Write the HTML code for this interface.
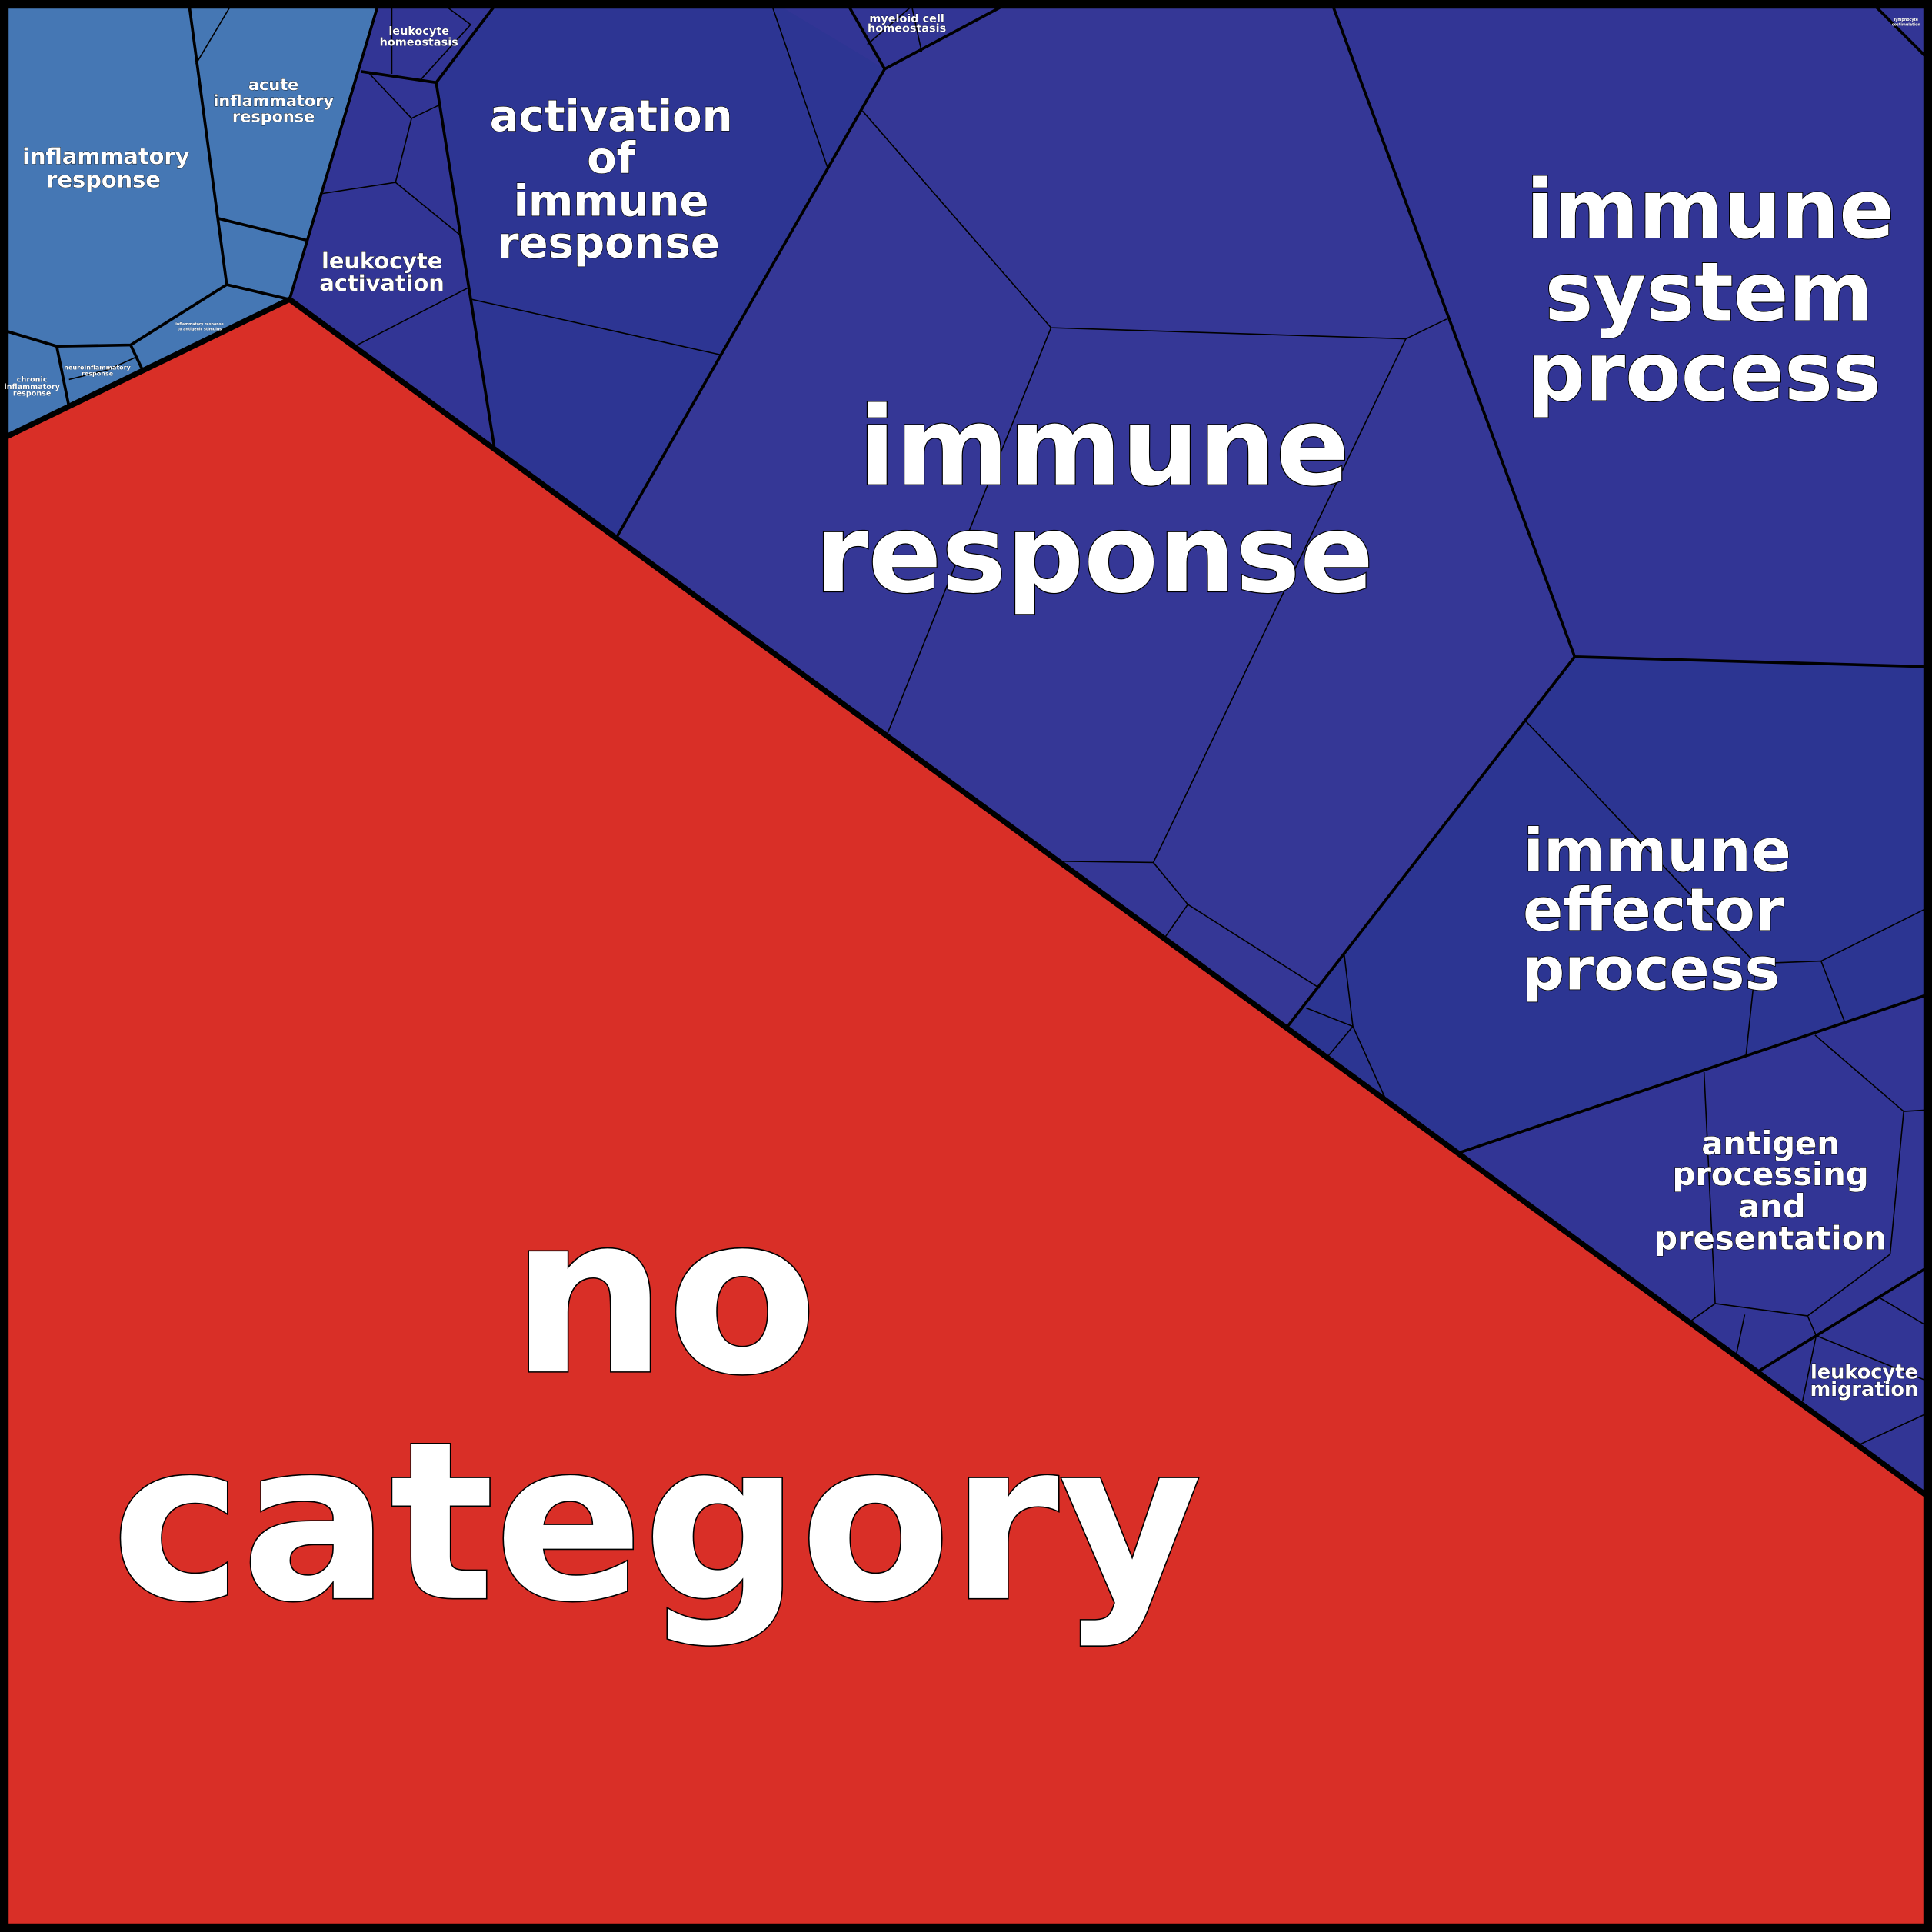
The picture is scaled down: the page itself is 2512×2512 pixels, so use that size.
<!DOCTYPE html>
<html><head><meta charset="utf-8"><style>
html,body{margin:0;padding:0;background:#000}
svg{display:block}
text{font-family:"DejaVu Sans","Liberation Sans",sans-serif;font-weight:bold;fill:#fff;stroke:#000;text-anchor:middle;paint-order:stroke}
</style></head><body>
<svg width="2512" height="2512" viewBox="0 0 1568 1568" xmlns="http://www.w3.org/2000/svg">
<rect x="0" y="0" width="1568" height="1568" fill="#323595"/>
<polygon points="718,56 823,0 1080,0 1278,533 1045,833 501,435" fill="#353796"/>
<polygon points="1278,533 1562,541 1562,808 1183,936 1045,833" fill="#2c3592"/>
<polygon points="354,67 405,0 625,0 718,56 501,435 401,362" fill="#2d3593"/>
<polygon points="0,0 308,0 235,243 0,357" fill="#4577b4"/>
<polygon points="0,357 235,243 1568,1217 1568,1568 0,1568" fill="#d92f27"/>

<g stroke="#000" stroke-width="1" fill="none">
<polyline points="700,90 853,266 1141,275 1174,259"/>
<polyline points="853,266 720,596"/>
<polyline points="1141,275 936,700 862,699"/>
<polyline points="936,700 964,734 946,760"/>
<polyline points="964,734 1071,802"/>
<polyline points="625,0 672,137"/>
<polyline points="383,243 585,288"/>
<polyline points="381,233 290,280"/>
<polyline points="375,192 321,148 262,157"/>
<polyline points="321,148 334,96 300,60"/>
<polyline points="334,96 357,85"/>
<polyline points="318,0 318,60"/>
<polyline points="355,0 382,20 342,64"/>
<polyline points="704,36 740,5 748,42"/>
<polyline points="1238,585 1425,782 1478,780 1497,829"/>
<polyline points="1425,782 1417,857"/>
<polyline points="1478,780 1562,738"/>
<polyline points="1060,818 1098,833 1091,775"/>
<polyline points="1098,833 1125,893"/>
<polyline points="1098,833 1078,857"/>
<polyline points="1383,870 1392,1058 1467,1068 1534,1018"/>
<polyline points="1473,840 1545,902 1534,1018"/>
<polyline points="1545,902 1562,901"/>
<polyline points="1392,1058 1371,1073"/>
<polyline points="1416,1067 1409,1100"/>
<polyline points="1467,1068 1474,1084 1463,1137"/>
<polyline points="1474,1084 1562,1120"/>
<polyline points="1525,1053 1562,1075"/>
<polyline points="1510,1172 1562,1148"/>
<polyline points="159,52 190,0"/>
<polyline points="56,308 88,300 110,290"/>
</g>

<g stroke="#000" stroke-width="2.3" fill="none" stroke-linejoin="round">
<polyline points="308,0 235,243"/>
<polyline points="293,58 354,67 405,0"/>
<polyline points="354,67 401,362"/>
<polyline points="501,435 718,56 823,0"/>
<polyline points="718,56 686,0"/>
<polyline points="1080,0 1278,533 1562,541"/>
<polyline points="1278,533 1045,833"/>
<polyline points="1183,936 1562,808"/>
<polyline points="1427,1113 1562,1030"/>
<polyline points="1517,0 1562,45"/>
<polyline points="153,0 184,231 235,243"/>
<polyline points="184,231 106,280 46,281 6,269"/>
<polyline points="46,281 56,330"/>
<polyline points="106,280 116,301"/>
<polyline points="176,177 249,195"/>
</g>
<polyline points="0,357 235,243 1568,1217" stroke="#000" stroke-width="4.5" fill="none" stroke-linejoin="round"/>
<rect x="3.5" y="3.5" width="1561" height="1561" fill="none" stroke="#000" stroke-width="7"/>

<text x="539" y="1113" font-size="178" stroke-width="2">no</text>
<text x="533" y="1297" font-size="178" stroke-width="2">category</text>
<text x="896" y="393" font-size="88" stroke-width="1.5">immune</text>
<text x="888" y="480" font-size="88" stroke-width="1.5">response</text>
<text x="1388" y="193" font-size="66" stroke-width="1.2">immune</text>
<text x="1387" y="260" font-size="66" stroke-width="1.2">system</text>
<text x="1383" y="325" font-size="66" stroke-width="1.2">process</text>
<text x="1345" y="707" font-size="48" stroke-width="1">immune</text>
<text x="1342" y="755" font-size="48" stroke-width="1">effector</text>
<text x="1340" y="803" font-size="48" stroke-width="1">process</text>
<text x="496" y="106" font-size="35" stroke-width="0.8">activation</text>
<text x="496" y="140" font-size="35" stroke-width="0.8">of</text>
<text x="496" y="175" font-size="35" stroke-width="0.8">immune</text>
<text x="494" y="209" font-size="35" stroke-width="0.8">response</text>
<text x="1437" y="937" font-size="26" stroke-width="0.7">antigen</text>
<text x="1437" y="962" font-size="26" stroke-width="0.7">processing</text>
<text x="1438" y="988" font-size="26" stroke-width="0.7">and</text>
<text x="1437" y="1014" font-size="26" stroke-width="0.7">presentation</text>
<text x="310" y="218" font-size="18" stroke-width="0.5">leukocyte</text>
<text x="310" y="236" font-size="18" stroke-width="0.5">activation</text>
<text x="1513" y="1119" font-size="16" stroke-width="0.5">leukocyte</text>
<text x="1513" y="1133" font-size="16" stroke-width="0.5">migration</text>
<text x="86" y="133" font-size="18" stroke-width="0.5">inflammatory</text>
<text x="84" y="152" font-size="18" stroke-width="0.5">response</text>
<text x="222" y="73" font-size="13" stroke-width="0.4">acute</text>
<text x="222" y="86" font-size="13" stroke-width="0.4">inflammatory</text>
<text x="222" y="99" font-size="13" stroke-width="0.4">response</text>
<text x="340" y="28" font-size="9" stroke-width="0.3">leukocyte</text>
<text x="340" y="37" font-size="9" stroke-width="0.3">homeostasis</text>
<text x="736" y="18" font-size="9" stroke-width="0.3">myeloid cell</text>
<text x="736" y="26" font-size="9" stroke-width="0.3">homeostasis</text>
<text x="26" y="310" font-size="6" stroke-width="0.2">chronic</text>
<text x="26" y="316" font-size="6" stroke-width="0.2">inflammatory</text>
<text x="26" y="321" font-size="6" stroke-width="0.2">response</text>
<text x="79" y="300" font-size="5" stroke-width="0.2">neuroinflammatory</text>
<text x="79" y="305" font-size="5" stroke-width="0.2">response</text>
<text x="162" y="264" font-size="3" stroke-width="0.1">inflammatory response</text>
<text x="162" y="268" font-size="3" stroke-width="0.1">to antigenic stimulus</text>
<text x="1547" y="17" font-size="3" stroke-width="0.1">lymphocyte</text>
<text x="1547" y="21" font-size="3" stroke-width="0.1">costimulation</text>
</svg>
</body></html>
